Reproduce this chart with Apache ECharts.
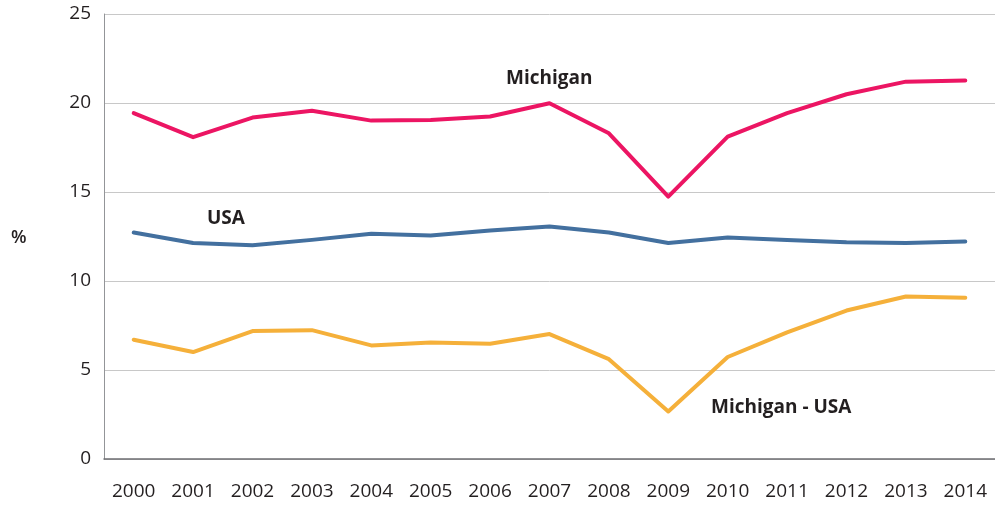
<!DOCTYPE html>
<html>
<head>
<meta charset="utf-8">
<script src="https://cdn.jsdelivr.net/npm/echarts@6/dist/echarts.min.js"></script>
<style>html,body{margin:0;padding:0;background:#fff}#c{width:995px;height:507px}</style>
</head>
<body>
<div id="c"></div>
<script>
var years = ['2000','2001','2002','2003','2004','2005','2006','2007','2008','2009','2010','2011','2012','2013','2014'];
var michigan = [19.43, 18.08, 19.18, 19.56, 19.01, 19.05, 19.24, 19.99, 18.30, 14.74, 18.11, 19.43, 20.49, 21.20, 21.26];
var usa = [12.72, 12.13, 12.01, 12.31, 12.65, 12.56, 12.84, 13.06, 12.72, 12.13, 12.44, 12.31, 12.18, 12.13, 12.22];
var diff = [6.70, 6.01, 7.19, 7.24, 6.38, 6.55, 6.47, 7.02, 5.61, 2.67, 5.73, 7.11, 8.34, 9.13, 9.06];
var yTicks = [0, 5, 10, 15, 20, 25];

var chart = echarts.init(document.getElementById('c'), null, {renderer: 'canvas'});
var font = '"Open Sans", sans-serif';
function line(name, data, color) {
  return {
    name: name, type: 'line', data: data, symbol: 'none', smooth: false,
    lineStyle: {color: color, width: 4, cap: 'round', join: 'round'},
    itemStyle: {color: color}, animation: false
  };
}
chart.setOption({
  animation: false,
  grid: {left: 104, right: -3, top: 14, bottom: 48, containLabel: false},
  xAxis: {
    type: 'category', data: years, boundaryGap: true,
    axisLine: {lineStyle: {color: '#6d6e71', width: 1.5}},
    axisTick: {show: false},
    axisLabel: {color: '#231f20', fontSize: 19, fontFamily: font, margin: 23, interval: 0},
    splitLine: {show: false}
  },
  yAxis: {
    type: 'value', min: yTicks[0], max: yTicks[yTicks.length - 1], interval: 5,
    axisLine: {show: true, lineStyle: {color: '#939598', width: 1}},
    axisTick: {show: false},
    axisLabel: {color: '#231f20', fontSize: 19, fontFamily: font, margin: 13},
    splitLine: {lineStyle: {color: '#c8c8c8', width: 1}}
  },
  series: [
    line('Michigan', michigan, '#ec1563'),
    line('USA', usa, '#43709f'),
    line('Michigan - USA', diff, '#f5b03a')
  ],
  graphic: [
    {type: 'text', left: 11, top: 229, style: {text: '%', fill: '#231f20', font: '600 18px ' + font}},
    {type: 'text', left: 506, top: 69, style: {text: 'Michigan', fill: '#231f20', font: 'bold 19px ' + font}},
    {type: 'text', left: 207, top: 209, style: {text: 'USA', fill: '#231f20', font: 'bold 19px ' + font}},
    {type: 'text', left: 711, top: 398, style: {text: 'Michigan - USA', fill: '#231f20', font: 'bold 19px ' + font}}
  ]
});
</script>
</body>
</html>
